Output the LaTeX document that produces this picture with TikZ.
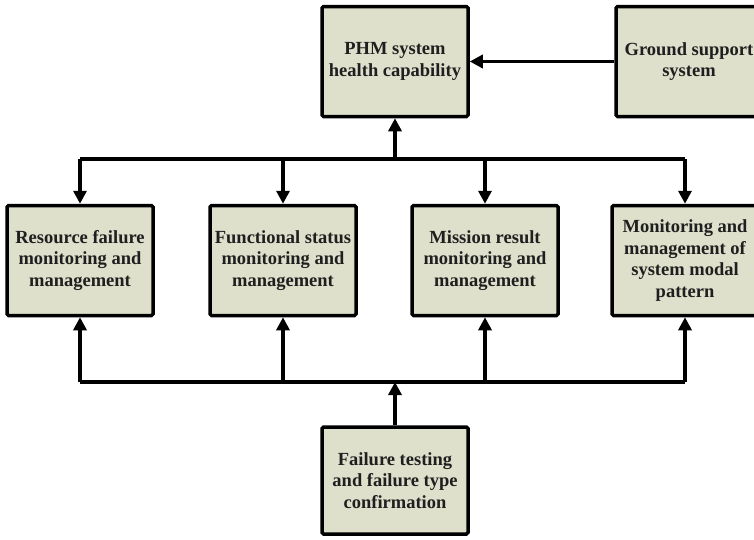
\documentclass[tikz,border=0pt]{standalone}
\usepackage{fontspec}
\setmainfont{Liberation Serif}
\usetikzlibrary{arrows.meta}
\definecolor{boxfill}{RGB}{222,224,203}
\begin{document}
\begin{tikzpicture}[x=1pt, y=1pt,
    box/.style={draw, line width=3.5pt, rounded corners=1.5pt, fill=boxfill, text=black!88,
                align=center, minimum width=146pt, minimum height=110pt, inner sep=0pt,
                font=\fontsize{18.5}{21.5}\selectfont\bfseries},
    link/.style={line width=3.5pt},
    arr/.style={link, -{Triangle[width=13pt,length=13pt]}}]
            \clip (0,0) rectangle (754,-539);
            \node[box] (phm) at (395,-61.5) {PHM system\\health capability};
            \node[box] (ground) at (689,-61.5) {Ground support\\system};
            \node[box] (res) at (80,-260.5) {Resource failure\\monitoring and\\management};
            \node[box] (func) at (283,-260.5) {Functional status\\monitoring and\\management};
            \node[box] (mis) at (485,-260.5) {Mission result\\monitoring and\\management};
            \node[box] (mode) at (685,-260.5) {Monitoring and\\management of\\system modal\\pattern};
            \node[box, minimum height=107pt] (fail) at (395,-480.5) {Failure testing\\and failure type\\confirmation};
            \coordinate (tb) at (395,-159);
            \coordinate (bb) at (395,-382);

            % upper bus feeding the health capability
            \draw[arr] (ground) -- (phm);
            \draw[link] (res.north |- tb) -- (mode.north |- tb);
            \draw[arr] (tb) -- (phm.south);
            \foreach \n in {res,func,mis,mode}
                \draw[arr] (\n.north |- tb) -- (\n.north);

            % lower bus from failure testing
            \draw[link] (res.south |- bb) -- (mode.south |- bb);
            \draw[arr] (fail.north) -- (bb);
            \foreach \n in {res,func,mis,mode}
                \draw[arr] (\n.south |- bb) -- (\n.south);
\end{tikzpicture}
\end{document}
